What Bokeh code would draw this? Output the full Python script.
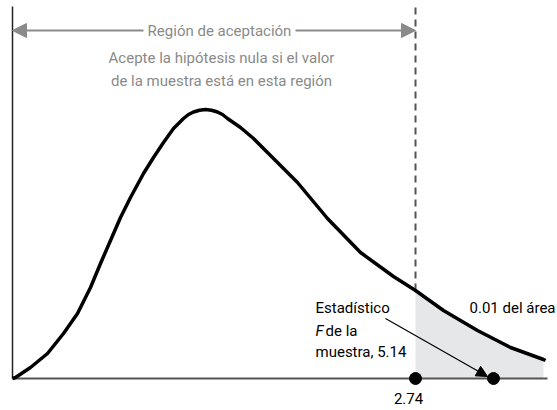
from bokeh.plotting import figure
from bokeh.models import Range1d, Arrow, NormalHead
from bokeh.core.properties import value
from bokeh.embed import file_html
from bokeh.resources import INLINE

# Schematic F-distribution curve (diagram units)
curve_x = [0, 3, 18, 35, 51, 65, 78, 88, 98, 108, 118, 131, 141, 151, 161, 171, 176, 181, 187,
           193, 199, 205, 210, 215, 228, 241, 255, 268, 285, 315, 348, 381, 403, 431, 465, 498,
           531, 533]
curve_y = [0, 1, 11, 25, 45, 65, 91, 115, 138, 161, 181, 205, 221, 236, 250, 260, 264, 266.5,
           268.3, 269, 268.3, 266.5, 264, 260, 251, 240, 226, 213, 196, 160, 126, 102, 88, 68,
           48, 31, 19, 18]

critical_x = 403          # position of the critical value
critical_label = "2.74"
sample_x = 481            # schematic position of the sample F statistic
tail_end_x = 531
axis_top = 372
axis_right = 535

FONT = value("Roboto")
FS = "15px"
GRAY = "#8a8a8a"

p = figure(width=557, height=410, output_backend="svg", toolbar_location=None,
           x_range=Range1d(-12, 545), y_range=Range1d(-32, 378),
           x_axis_type=None, y_axis_type=None, min_border=0,
           min_border_left=0, min_border_right=0, min_border_top=0, min_border_bottom=0)
p.grid.visible = False
p.outline_line_color = None

# shaded rejection area
tx = [x for x in curve_x if critical_x <= x <= tail_end_x]
ty = [y for x, y in zip(curve_x, curve_y) if critical_x <= x <= tail_end_x]
p.varea(x=tx, y1=[0] * len(tx), y2=ty, fill_color="#e6e7e9")

# axes
p.line(x=[0, axis_right], y=[0, 0], line_color="#555555", line_width=2)
p.line(x=[0, 0], y=[0, axis_top], line_color="#222222", line_width=1.5)

# critical dashed line
crit_y = curve_y[curve_x.index(critical_x)]
p.line(x=[critical_x, critical_x], y=[crit_y, axis_top], line_color="#555555",
       line_width=2, line_dash="7 5")

# curve
p.line(x=curve_x, y=curve_y, line_color="black", line_width=3.5, line_join="round")

# acceptance region arrows
p.add_layout(Arrow(end=NormalHead(size=14, fill_color=GRAY, line_color=GRAY),
                   x_start=131, y_start=348, x_end=0, y_end=348,
                   line_color=GRAY, line_width=2))
p.add_layout(Arrow(end=NormalHead(size=14, fill_color=GRAY, line_color=GRAY),
                   x_start=283, y_start=348, x_end=critical_x, y_end=348,
                   line_color=GRAY, line_width=2))

p.text(x=[207], y=[348], text=["Región de aceptación"], text_font=FONT, text_font_size=FS,
       text_color=GRAY, text_align="center", text_baseline="middle")
p.text(x=[209, 209], y=[321, 298],
       text=["Acepte la hipótesis nula si el valor", "de la muestra está en esta región"],
       text_font=FONT, text_font_size=FS, text_color=GRAY,
       text_align="center", text_baseline="middle")

# sample statistic annotation
p.text(x=[303], y=[71], text=["Estadístico"], text_font=FONT, text_font_size=FS,
       text_color="black", text_align="left", text_baseline="middle")
p.text(x=[303], y=[48], text=["F"], text_font=FONT, text_font_size=FS,
       text_font_style="italic", text_color="black", text_align="left", text_baseline="middle")
p.text(x=[313], y=[48], text=["de la"], text_font=FONT, text_font_size=FS,
       text_color="black", text_align="left", text_baseline="middle")
p.text(x=[303], y=[27], text=["muestra, 5.14"], text_font=FONT, text_font_size=FS,
       text_color="black", text_align="left", text_baseline="middle")
p.text(x=[543], y=[71], text=["0.01 del área"], text_font=FONT, text_font_size=FS,
       text_color="black", text_align="right", text_baseline="middle")
p.text(x=[critical_x - 7], y=[-20], text=[critical_label], text_font=FONT,
       text_font_size=FS, text_color="black", text_align="center", text_baseline="middle")

p.add_layout(Arrow(end=NormalHead(size=11, fill_color="black", line_color="black"),
                   x_start=373, y_start=60, x_end=475, y_end=2,
                   line_color="black", line_width=1.2))

# dots
p.scatter(x=[critical_x, sample_x], y=[0, 0], size=12, fill_color="black", line_color="black")

open("out.html", "w").write(file_html(p, INLINE))
